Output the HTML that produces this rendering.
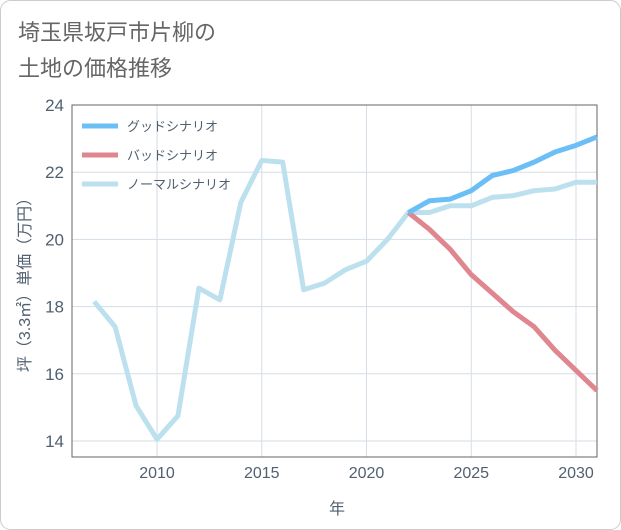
<!DOCTYPE html>
<html><head><meta charset="utf-8"><style>
body{margin:0;background:#fff;}
svg{display:block;font-family:"Liberation Sans","Noto Sans CJK JP",sans-serif;}
</style></head><body>
<svg id="c" width="621" height="530" viewBox="0 0 621 530">
<rect x="0.5" y="0.5" width="620" height="529" rx="10" fill="#fff" stroke="#cccccc"/>
<text x="18" y="40" font-size="22" fill="#666">埼玉県坂戸市片柳の</text>
<text x="18" y="76" font-size="22" fill="#666">土地の価格推移</text>
<g id="grid"></g>
<rect x="72" y="105" width="525" height="352" fill="none" stroke="#666" stroke-width="1"/>
<g id="series"></g>
<g id="ticks"></g>
<text x="337" y="514" font-size="16" fill="#506070" text-anchor="middle">年</text>
<text transform="translate(30,281) rotate(-90)" font-size="16" fill="#506070" text-anchor="middle">坪（3.3㎡）単価（万円）</text>
<g id="legend"></g>
</svg>
<script>
const years=[2007,2008,2009,2010,2011,2012,2013,2014,2015,2016,2017,2018,2019,2020,2021,2022,2023,2024,2025,2026,2027,2028,2029,2030,2031];
const normalVals=[18.15,17.4,15.05,14.05,14.75,18.55,18.2,21.1,22.35,22.3,18.5,18.7,19.1,19.35,20.0,20.8,20.8,21.0,21.0,21.25,21.3,21.45,21.5,21.7,21.7];
const futureYears=[2022,2023,2024,2025,2026,2027,2028,2029,2030,2031];
const goodVals=[20.8,21.15,21.2,21.45,21.9,22.05,22.3,22.6,22.8,23.05];
const badVals=[20.8,20.3,19.7,18.95,18.4,17.85,17.4,16.7,16.1,15.5];
const yTicks=[14,16,18,20,22,24];
const xTicks=[2010,2015,2020,2025,2030];
const seriesNames=["グッドシナリオ","バッドシナリオ","ノーマルシナリオ"];
const ns="http://www.w3.org/2000/svg";
const X=v=>157+(v-2010)*20.95;
const Y=v=>441-(v-14)*33.6;
function mk(t,a,p){const e=document.createElementNS(ns,t);for(const k in a)e.setAttribute(k,a[k]);p.appendChild(e);return e;}
const grid=document.getElementById('grid'),ticks=document.getElementById('ticks'),ser=document.getElementById('series'),leg=document.getElementById('legend');
yTicks.forEach(v=>{const l=mk('line',{x1:72,x2:597,y1:Y(v),y2:Y(v),stroke:'#d5dde5'},grid);


const t=mk('text',{x:64,y:Y(v)+6,'font-size':17,fill:'#506070','text-anchor':'end'},ticks);t.textContent=v;

});
xTicks.forEach(v=>{const l=mk('line',{x1:X(v),x2:X(v),y1:105,y2:457,stroke:'#d5dde5'},grid);


const t=mk('text',{x:X(v),y:478,'font-size':16,fill:'#506070','text-anchor':'middle'},ticks);t.textContent=v;

});
function line(xs,ys,c,name){const p=mk('polyline',{points:xs.map((x,i)=>X(x)+','+Y(ys[i])).join(' '),fill:'none',stroke:c,'stroke-width':5,'stroke-linejoin':'round'},ser);

}
line(years,normalVals,'#bde0ee','normal-line');
line(futureYears,badVals,'#e0868e','bad-line');
line(futureYears,goodVals,'#6bbff5','good-line');
const cols=['#6bbff5','#e0868e','#bde0ee'];
seriesNames.forEach((n,i)=>{const y=126+i*29;
const l=mk('line',{x1:82,x2:118,y1:y,y2:y,stroke:cols[i],'stroke-width':5},leg);


const t=mk('text',{x:127,y:y+5,'font-size':13,fill:'#506070'},leg);t.textContent=n;

});
</script>
</body></html>
